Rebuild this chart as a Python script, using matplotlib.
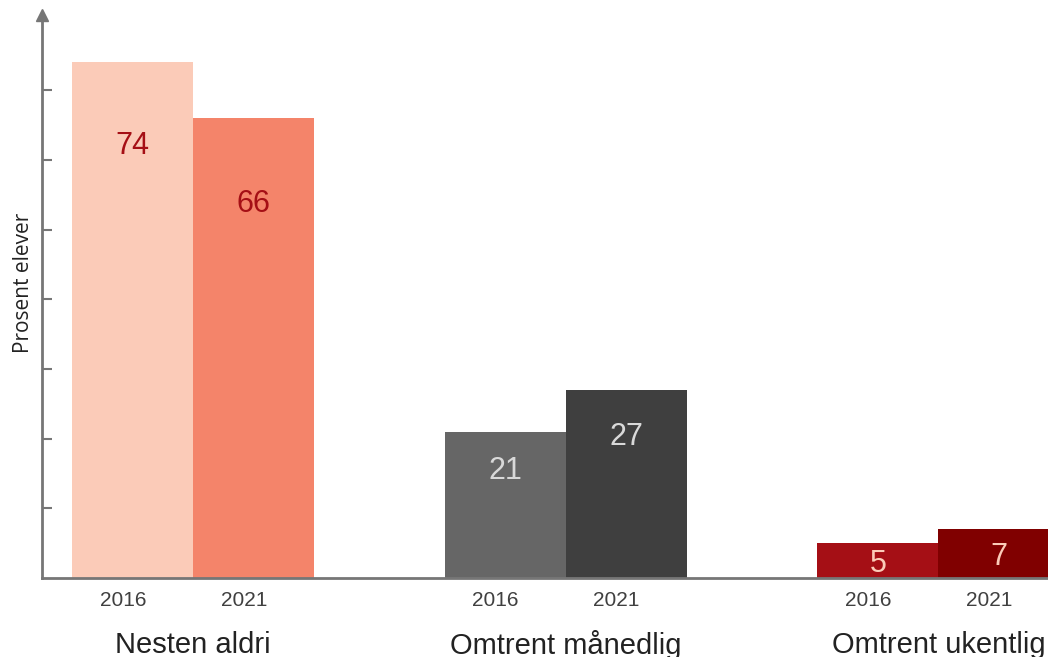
import numpy as np
import matplotlib.pyplot as plt

categories = ['Nesten aldri', 'Omtrent månedlig', 'Omtrent ukentlig']
years = ['2016', '2021']
values_2016 = [74, 21, 5]
values_2021 = [66, 27, 7]

colors_2016 = ['#FBCBB8', '#666666', '#A50F15']
colors_2021 = ['#F4846A', '#3F3F3F', '#800000']
label_colors = ['#A50F15', '#D9D9D9', '#FBCBB8']
# how far below the bar top the value sits (points)
offsets_2016 = [60, 28, 15]
offsets_2021 = [62, 34, 20]

plt.rcParams['font.family'] = ['Liberation Sans', 'DejaVu Sans']

fig = plt.figure(figsize=(10.48, 6.57), dpi=100)
ax = fig.add_axes([42 / 1048, 79 / 657, 1 - 42 / 1048, 563 / 657])

spacing = 3.08
w = 1.0
centers = np.arange(len(categories)) * spacing
x16 = centers - w / 2
x21 = centers + w / 2

ax.bar(x16, values_2016, width=w, color=colors_2016, linewidth=0)
ax.bar(x21, values_2021, width=w, color=colors_2021, linewidth=0)

for i in range(len(categories)):
    for x, v, off in [(x16[i], values_2016[i], offsets_2016[i]),
                      (x21[i], values_2021[i], offsets_2021[i])]:
        ax.annotate(str(v), (x, v), xytext=(0, -off), textcoords='offset points',
                    ha='center', va='center', fontsize=22, color=label_colors[i])

ax.set_xlim(-1.248, 7.066)
ax.set_ylim(0, 80.8)

for s in ['top', 'right']:
    ax.spines[s].set_visible(False)
for s in ['left', 'bottom']:
    ax.spines[s].set_color('#767676')
    ax.spines[s].set_linewidth(2)

ax.set_yticks(np.arange(10, 80, 10))
ax.set_yticklabels([])
ax.tick_params(axis='y', direction='in', length=7, width=1.5, color='#767676')
ax.plot([0], [1], marker='^', markersize=8, color='#767676',
        transform=ax.transAxes, clip_on=False)

xt = np.concatenate([x16, x21]) - 0.08
ax.set_xticks(xt)
ax.set_xticklabels([years[0]] * 3 + [years[1]] * 3, fontsize=15, color='#404040')
ax.tick_params(axis='x', length=0, pad=9)

for c, name in zip(centers, categories):
    ax.annotate(name, (c, 0), xycoords=('data', 'axes fraction'),
                xytext=(0, -48), textcoords='offset points',
                ha='center', va='center', fontsize=21, color='#222222',
                annotation_clip=False)

ax.set_ylabel('Prosent elever', fontsize=15, family=['Open Sans', 'DejaVu Sans'],
              color='#222222')
ax.yaxis.set_label_coords(-0.008, 0.524)

fig.savefig('out.png', dpi=100)
